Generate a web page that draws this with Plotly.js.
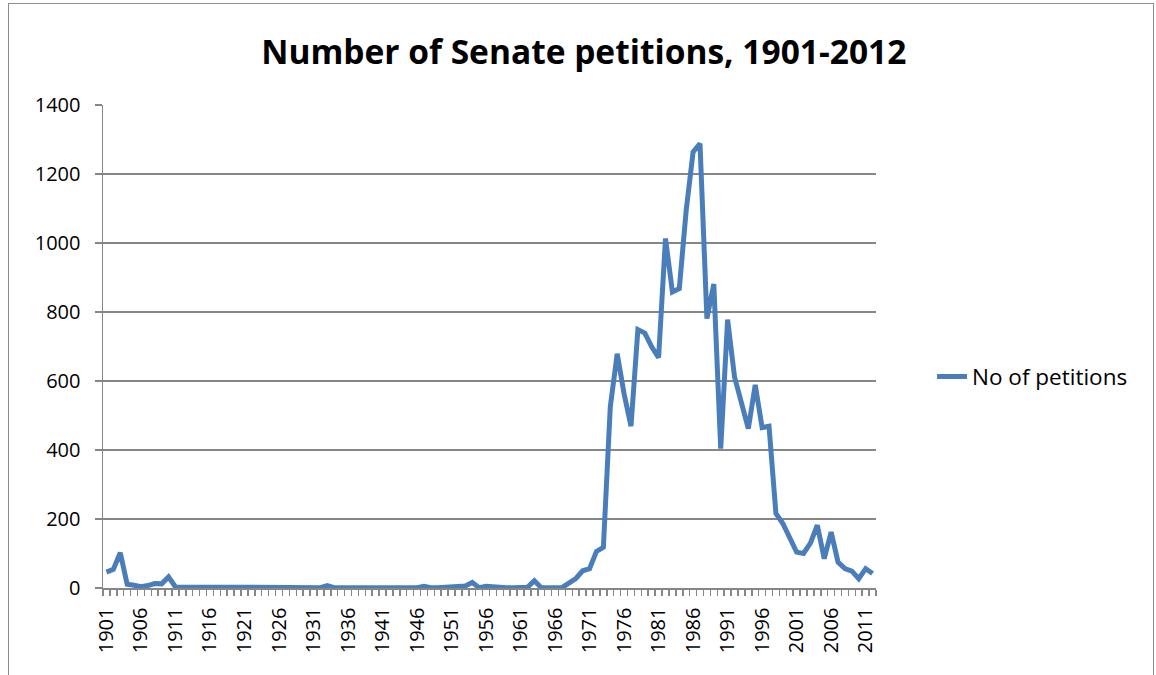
<!DOCTYPE html>
<html>
<head>
<meta charset="utf-8">
<script src="https://cdn.plot.ly/plotly-3.0.1.min.js"></script>
<style>
  html, body { margin: 0; padding: 0; background: #ffffff; overflow: hidden; }
  #frame { position: absolute; left: 8px; top: 3px; width: 1146px; height: 720px; border: 1.5px solid #8c8c8c; box-sizing: border-box; }
  #chart { position: absolute; left: 0; top: 0; width: 1156px; height: 675px; }
</style>
</head>
<body>
<div id="frame"></div>
<div id="chart"></div>
<script>
// Data
const firstYear = 1901;
const petitions = [
  46, 54, 102, 11, 8, 4, 7, 13, 12, 32,          // 1901-1910
  3, 3, 1, 1, 2, 2, 1, 4, 1, 1,                   // 1911-1920
  1, 1, 1, 1, 1, 1, 1, 1, 1, 2,                   // 1921-1930
  1, 1, 7, 1, 1, 1, 1, 1, 1, 2,                   // 1931-1940
  1, 1, 1, 2, 1, 1, 5, 1, 1, 2,                   // 1941-1950
  2, 3, 6, 16, 1, 5, 3, 2, 1, 1,                  // 1951-1960
  1, 2, 21, 1, 1, 1, 1, 14, 27, 50,               // 1961-1970
  56, 106, 118, 525, 679, 563, 469, 749, 739, 699,          // 1971-1980
  668, 1013, 858, 868, 1095, 1264, 1288, 781, 881, 404,     // 1981-1990
  778, 612, 534, 462, 589, 465, 469, 216, 187, 143,         // 1991-2000
  104, 100, 130, 182, 85, 162, 75, 56, 49, 27,              // 2001-2010
  56, 42                                                    // 2011-2012
];
const years = petitions.map((_, i) => firstYear + i);
const xTickYears = [1901, 1906, 1911, 1916, 1921, 1926, 1931, 1936, 1941, 1946, 1951, 1956, 1961, 1966, 1971, 1976, 1981, 1986, 1991, 1996, 2001, 2006, 2011];
const xTickLabels = xTickYears.map(String);
const yTicks = [0, 200, 400, 600, 800, 1000, 1200, 1400];
const seriesName = 'No of petitions';
const chartTitle = 'Number of Senate petitions, 1901-2012';

const fontFam = '"Open Sans", "Liberation Sans", sans-serif';
const gridCol = '#868686';

const trace = {
  x: years,
  y: petitions,
  type: 'scatter',
  mode: 'lines',
  name: seriesName,
  line: { color: '#4a7ebb', width: 5 },
  showlegend: true
};

const layout = {
  width: 1156,
  height: 675,
  paper_bgcolor: 'rgba(0,0,0,0)',
  plot_bgcolor: 'rgba(0,0,0,0)',
  margin: { l: 103, r: 280, t: 105, b: 87, pad: 0 },
  font: { family: fontFam, size: 20, color: '#000000' },
  title: {
    text: '<b>' + chartTitle + '</b>',
    font: { family: fontFam, size: 33.5, color: '#000000' },
    xref: 'container', yref: 'container',
    x: 0.505, y: 1 - 52 / 675, xanchor: 'center', yanchor: 'middle'
  },
  xaxis: {
    type: 'linear',
    range: [1900.5, 2012.5],
    tickmode: 'array',
    tickvals: xTickYears,
    ticktext: xTickLabels,
    tickangle: -90,
    ticks: '',
    ticklabelstandoff: 10,
    showgrid: false,
    zeroline: false,
    showline: true,
    linecolor: gridCol,
    linewidth: 1.5,
    tickfont: { family: fontFam, size: 20, color: '#000000' },
    minor: { tickmode: 'linear', tick0: 1900.5, dtick: 1, ticks: 'outside', ticklen: 6, tickcolor: gridCol, tickwidth: 1.5, showgrid: false },
    fixedrange: true
  },
  yaxis: {
    range: [0, 1400],
    tickmode: 'array',
    tickvals: yTicks,
    ticktext: yTicks.map(String),
    ticks: 'outside',
    ticklen: 7,
    tickcolor: gridCol,
    tickwidth: 1.5,
    ticklabelstandoff: 10,
    showgrid: true,
    gridcolor: gridCol,
    gridwidth: 1.2,
    zeroline: false,
    showline: true,
    linecolor: gridCol,
    linewidth: 1.5,
    tickfont: { family: fontFam, size: 20, color: '#000000' },
    fixedrange: true
  },
  legend: {
    x: 1.0725, y: 0.437, xanchor: 'left', yanchor: 'middle',
    font: { family: fontFam, size: 22.5, color: '#000000' },
    bgcolor: 'rgba(0,0,0,0)',
    itemwidth: 30
  },
  showlegend: true
};

Plotly.newPlot('chart', [trace], layout, { displayModeBar: false, staticPlot: true });
</script>
</body>
</html>
